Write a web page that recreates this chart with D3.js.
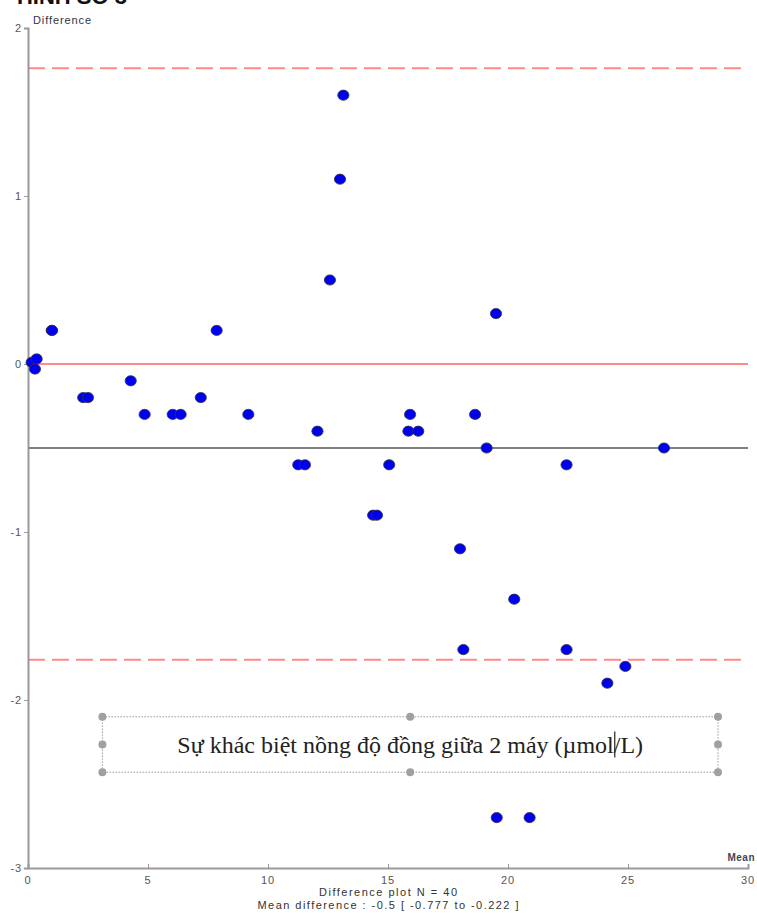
<!DOCTYPE html>
<html>
<head>
<meta charset="utf-8">
<script src="https://cdn.jsdelivr.net/npm/d3@7"></script>
<style>
  html, body { margin: 0; padding: 0; background: #fff; }
  svg { display: block; }
</style>
</head>
<body>
<div id="chart"></div>
<script>
// mean of the two machines (x) and their difference (y)
const means = [0.15, 0.36, 0.29, 0.99, 1.0, 2.3, 2.5, 4.28, 4.86, 6.03, 6.36, 7.2, 7.86, 9.18,
  11.26, 11.54, 12.06, 12.58, 13.0, 13.14, 14.38, 14.54, 15.05, 15.92, 15.85, 16.26,
  18.0, 18.14, 18.63, 19.11, 19.5, 19.53, 20.26, 20.9, 22.44, 22.44, 24.14, 24.89, 26.5];
const diffs = [0.01, 0.03, -0.03, 0.2, 0.2, -0.2, -0.2, -0.1, -0.3, -0.3, -0.3, -0.2, 0.2, -0.3,
  -0.6, -0.6, -0.4, 0.5, 1.1, 1.6, -0.9, -0.9, -0.6, -0.3, -0.4, -0.4,
  -1.1, -1.7, -0.3, -0.5, 0.3, -2.7, -1.4, -2.7, -0.6, -1.7, -1.9, -1.8, -0.5];

const xTicks = [0, 5, 10, 15, 20, 25, 30];
const yTicks = [2, 1, 0, -1, -2, -3];
const meanDiff = -0.5;
const limits = [1.76, -1.76];
const footer = ["Difference plot N = 40", "Mean difference : -0.5 [ -0.777 to -0.222 ]"];
const boxLabel = "Sự khác biệt nồng độ đồng giữa 2 máy (µmol/L)";
const boxSpan = { x: [3.1, 28.75], y: [-2.1, -2.43] };

const width = 757, height = 913;
const axisFont = "'Liberation Sans Narrow', 'Liberation Sans', Arial, sans-serif";

const svg = d3.select("#chart").append("svg")
  .attr("width", width)
  .attr("height", height);

svg.append("rect").attr("width", width).attr("height", height).attr("fill", "#fff");

/* page heading, mostly cut off at the top of the screenshot */
svg.append("text")
  .attr("x", 127).attr("y", 4)
  .attr("text-anchor", "end")
  .style("font-family", "'Liberation Sans', Arial, sans-serif")
  .style("font-weight", "bold")
  .style("font-size", "22px")
  .attr("fill", "#111")
  .text("HÌNH SỐ 3");

const x = d3.scaleLinear().domain([0, 30]).range([28, 748]);
const y = d3.scaleLinear().domain([-3, 2]).range([868, 28]);

/* reference lines */
svg.append("g")
  .selectAll("line")
  .data(limits)
  .join("line")
  .attr("x1", x(0)).attr("x2", x(30))
  .attr("y1", d => y(d)).attr("y2", d => y(d))
  .attr("stroke", "#ff8a8a")
  .attr("stroke-width", 2)
  .attr("stroke-dasharray", "17,7");

svg.append("line")
  .attr("x1", x(0)).attr("x2", x(30))
  .attr("y1", y(0)).attr("y2", y(0))
  .attr("stroke", "#ff8a8a")
  .attr("stroke-width", 2);

svg.append("line")
  .attr("x1", x(0)).attr("x2", x(30))
  .attr("y1", y(meanDiff)).attr("y2", y(meanDiff))
  .attr("stroke", "#555")
  .attr("stroke-width", 1.5);

/* axes */
const xAxis = svg.append("g")
  .attr("transform", `translate(0,${y(-3)})`)
  .call(d3.axisTop(x).tickValues(xTicks).tickSize(4).tickFormat(""))
  .call(g => g.select(".domain").attr("stroke", "#999").attr("stroke-width", 2));
xAxis.selectAll(".tick line").attr("stroke", "#999");

svg.append("g")
  .selectAll("text")
  .data(xTicks)
  .join("text")
  .attr("x", d => x(d))
  .attr("y", y(-3) + 16)
  .attr("text-anchor", "middle")
  .style("font-family", axisFont)
  .style("font-size", "11px")
  .style("letter-spacing", "0.8px")
  .attr("fill", "#555")
  .text(d => d);

const yAxis = svg.append("g")
  .attr("transform", `translate(${x(0)},0)`)
  .call(d3.axisLeft(y).tickValues(yTicks).tickSize(4).tickFormat(""))
  .call(g => g.select(".domain").attr("stroke", "#999").attr("stroke-width", 2));
yAxis.selectAll(".tick line").attr("stroke", "#999");

svg.append("g")
  .selectAll("text")
  .data(yTicks)
  .join("text")
  .attr("x", x(0) - 6)
  .attr("y", d => y(d) + 4)
  .attr("text-anchor", "end")
  .style("font-family", axisFont)
  .style("font-size", "11px")
  .style("letter-spacing", "0.8px")
  .attr("fill", "#555")
  .text(d => d);

svg.append("text")
  .attr("x", x(0) + 5).attr("y", y(2) - 4)
  .attr("textLength", 58)
  .attr("lengthAdjust", "spacing")
  .style("font-family", axisFont)
  .style("font-size", "11px")
  .attr("fill", "#334")
  .text("Difference");

svg.append("text")
  .attr("x", x(30) + 7).attr("y", y(-3) - 7)
  .attr("text-anchor", "end")
  .style("font-family", axisFont)
  .style("font-size", "10px")
  .style("font-weight", "bold")
  .style("letter-spacing", "0.5px")
  .attr("fill", "#445")
  .text("Mean");

const footerWidths = [138, 261];
svg.append("g")
  .selectAll("text")
  .data(footer)
  .join("text")
  .attr("x", (d, i) => x(15) - footerWidths[i] / 2)
  .attr("y", (d, i) => y(-3) + 28 + i * 13)
  .attr("textLength", (d, i) => footerWidths[i])
  .attr("lengthAdjust", "spacing")
  .style("font-family", axisFont)
  .style("font-size", "11px")
  .attr("fill", "#333")
  .text(d => d);

/* points */
const points = means.map((m, i) => ({ m, d: diffs[i] }));
svg.append("g")
  .selectAll("ellipse")
  .data(points)
  .join("ellipse")
  .attr("cx", p => x(p.m))
  .attr("cy", p => y(p.d))
  .attr("rx", 5.6)
  .attr("ry", 5.1)
  .attr("fill", "#0000f0")
  .attr("stroke", "#334")
  .attr("stroke-width", 0.8);

/* text box annotation with selection handles */
const bx = boxSpan.x.map(x), by = boxSpan.y.map(y);
const box = svg.append("g");
box.append("rect")
  .attr("x", bx[0]).attr("y", by[0])
  .attr("width", bx[1] - bx[0]).attr("height", by[1] - by[0])
  .attr("fill", "none")
  .attr("stroke", "#999")
  .attr("stroke-width", 1)
  .attr("stroke-dasharray", "1.5,1.5");

const midX = (bx[0] + bx[1]) / 2, midY = (by[0] + by[1]) / 2;
const handles = [
  [bx[0], by[0]], [midX, by[0]], [bx[1], by[0]],
  [bx[0], midY], [bx[1], midY],
  [bx[0], by[1]], [midX, by[1]], [bx[1], by[1]],
];
box.selectAll("circle")
  .data(handles)
  .join("circle")
  .attr("cx", d => d[0]).attr("cy", d => d[1])
  .attr("r", 4)
  .attr("fill", "#a0a0a0");

const label = box.append("text")
  .attr("x", midX)
  .attr("y", midY + 8)
  .attr("text-anchor", "middle")
  .style("font-family", "'Liberation Serif', 'Times New Roman', serif")
  .style("font-size", "24px")
  .attr("fill", "#222")
  .text(boxLabel);

// text cursor sitting after "mol"
const node = label.node();
const cursorAt = boxLabel.indexOf("/");
const cx = node.getStartPositionOfChar(cursorAt).x + 1;
box.append("line")
  .attr("x1", cx).attr("x2", cx)
  .attr("y1", midY - 13).attr("y2", midY + 13)
  .attr("stroke", "#222")
  .attr("stroke-width", 1.2);
</script>
</body>
</html>
